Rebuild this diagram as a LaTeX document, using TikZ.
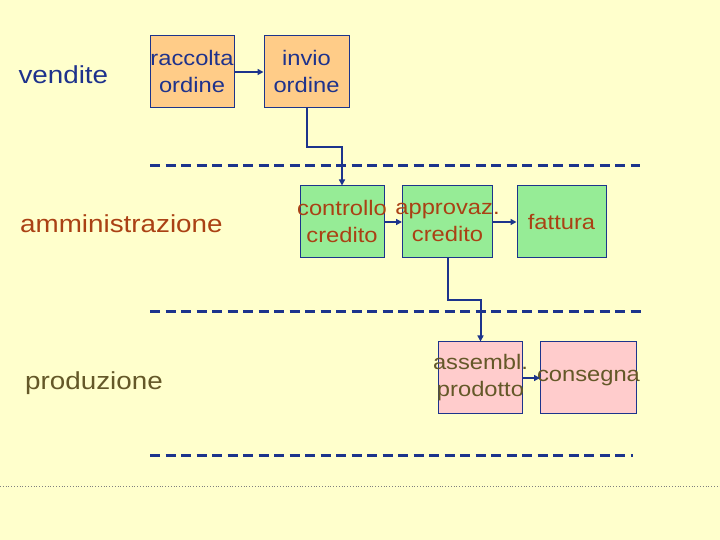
\documentclass[tikz,border=0pt]{standalone}
\usepackage{fontspec}
\setmainfont{Liberation Sans}[FakeStretch=1.13]
\usetikzlibrary{arrows.meta,calc}
\definecolor{bgyellow}{RGB}{255,255,204}
\definecolor{navy}{RGB}{28,52,140}
\definecolor{boxorange}{RGB}{255,204,136}
\definecolor{boxgreen}{RGB}{150,236,150}
\definecolor{boxpink}{RGB}{255,204,204}
\definecolor{txtblue}{RGB}{30,50,140}
\definecolor{txtred}{RGB}{170,65,20}
\definecolor{txtolive}{RGB}{100,88,40}

\begin{document}
\begin{tikzpicture}[x=1pt,y=1pt,
  procbox/.style={draw=navy,line width=1pt,minimum height=72pt,inner sep=0pt},
  boxtext/.style={align=center,inner sep=0pt,font=\fontsize{21}{27}\selectfont},
  lanelabel/.style={anchor=base west,inner sep=0pt,font=\fontsize{24.6}{28}\selectfont},
  lanesep/.style={draw=navy,line width=3pt,dash pattern=on 10pt off 5.5pt},
  flow/.style={draw=navy,line width=2pt,-{Triangle[length=6pt,width=6pt]}}]
\fill[bgyellow] (0,0) rectangle (720,540);
\useasboundingbox (0,0) rectangle (720,540);
% lanes
\draw[lanesep] (150,374)--(640,374);
\draw[lanesep] (150,228)--(641,228);
\draw[lanesep] (150,84)--(633,84);
\draw[gray,line width=.8pt,dotted] (0,54)--(720,54);
\node[lanelabel,text=txtblue] (vend) at (18.3,456) {vendite};
\node[lanelabel,text=txtred] (amm) at (20,307) {amministrazione};
\node[lanelabel,text=txtolive] (prod) at (25,150) {produzione};
% boxes
\node[procbox,fill=boxorange,minimum width=84pt] (racc) at (192,468) {};
\node[procbox,fill=boxorange,minimum width=85pt] (invio) at (306.5,468) {};
\node[procbox,fill=boxgreen,minimum width=84pt] (ctrl) at (342,318) {};
\node[procbox,fill=boxgreen,minimum width=90pt] (appr) at (447.5,318) {};
\node[procbox,fill=boxgreen,minimum width=89pt] (fatt) at (561.5,318) {};
\node[procbox,fill=boxpink,minimum width=84pt] (assm) at (480.5,162) {};
\node[procbox,fill=boxpink,minimum width=96pt] (cons) at (588.5,162) {};
% box texts
\node[boxtext,text=txtblue] at (racc.center) {raccolta\\ordine};
\node[boxtext,text=txtblue] at (invio.center) {invio\\ordine};
\node[boxtext,text=txtred] at (ctrl.center) {controllo\\credito};
\node[boxtext,text=txtred] at (appr.center) {approvaz.\\credito};
\node[boxtext,text=txtred] at (fatt.center) {fattura};
\node[boxtext,text=txtolive] at (assm.center) {assembl.\\prodotto};
\node[boxtext,text=txtolive] at (cons.center) {consegna};
% flows
\draw[flow] (racc.east) -- (invio.west);
\draw[flow] (invio.south) |- ($(invio.south)!.5!(ctrl.north)$) -| (ctrl.north);
\draw[flow] (ctrl.east) -- (appr.west);
\draw[flow] (appr.east) -- (fatt.west);
\draw[flow] (appr.south) |- ($(appr.south)!.5!(assm.north)$) -| (assm.north);
\draw[flow] (assm.east) -- (cons.west);
\end{tikzpicture}
\end{document}
